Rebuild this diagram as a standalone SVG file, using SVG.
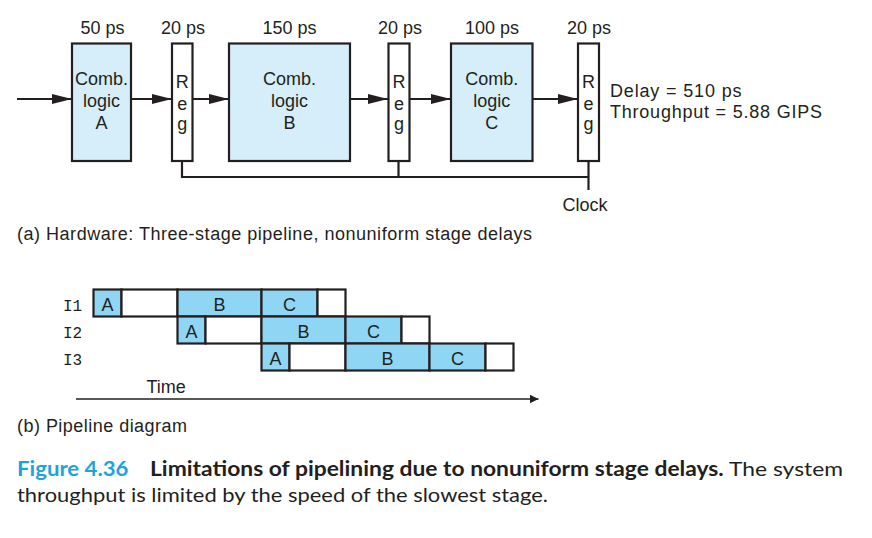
<svg xmlns="http://www.w3.org/2000/svg" width="872" height="538" viewBox="0 0 872 538">
<defs>
<style>
.t{font-family:"Liberation Sans",Arial,sans-serif;font-size:18px;fill:#231f20}
.c{text-anchor:middle}
.mono{font-family:"Liberation Mono","Courier New",monospace;font-size:16px;fill:#231f20}
.box{fill:#d5eef9;stroke:#231f20;stroke-width:2.2}
.reg{fill:#fff;stroke:#231f20;stroke-width:2.2}
.cell{fill:#8fd6f4;stroke:#231f20;stroke-width:2.2}
.empty{fill:#fff;stroke:#231f20;stroke-width:2.2}
.wire{fill:none;stroke:#231f20;stroke-width:2.2}
.cap{font-family:Lato,"Open Sans",sans-serif;font-size:20px;fill:#231f20}
</style>
<marker id="ah" markerUnits="userSpaceOnUse" markerWidth="20" markerHeight="10" refX="20" refY="5" orient="auto">
<path d="M0,0 L20,5 L0,10 z" fill="#231f20"/>
</marker>
<marker id="ah2" markerUnits="userSpaceOnUse" markerWidth="10" markerHeight="9" refX="9" refY="4.5" orient="auto">
<path d="M0,0 L9,4.5 L0,9 z" fill="#231f20"/>
</marker>
</defs>
<rect width="872" height="538" fill="#fff"/>

<g id="connectors">
<line class="wire" x1="17" y1="99" x2="72" y2="99" marker-end="url(#ah)"/>
<line class="wire" x1="131" y1="99" x2="172" y2="99" marker-end="url(#ah)"/>
<line class="wire" x1="193" y1="99" x2="229" y2="99" marker-end="url(#ah)"/>
<line class="wire" x1="350" y1="99" x2="388" y2="99" marker-end="url(#ah)"/>
<line class="wire" x1="410" y1="99" x2="451" y2="99" marker-end="url(#ah)"/>
<line class="wire" x1="532" y1="99" x2="578" y2="99" marker-end="url(#ah)"/>
<polyline class="wire" points="182,161 182,177 588.5,177"/>
<line class="wire" x1="398.5" y1="161" x2="398.5" y2="177"/>
<line class="wire" x1="588.5" y1="161" x2="588.5" y2="190"/>
</g>

<g id="combA">
<rect class="box" x="72" y="43.5" width="59" height="117.5"/>
<text class="t c" x="101.5" y="85">Comb.</text>
<text class="t c" x="101.5" y="107">logic</text>
<text class="t c" x="101.5" y="129">A</text>
<text class="t c" x="102.5" y="34">50 ps</text>
</g>
<g id="reg1">
<rect class="reg" x="172" y="43.5" width="20.5" height="117.5"/>
<text class="t c" x="182.2" y="88">R</text>
<text class="t c" x="182.2" y="109.5">e</text>
<text class="t c" x="182.2" y="130">g</text>
<text class="t c" x="183" y="34">20 ps</text>
</g>
<g id="combB">
<rect class="box" x="229" y="43.5" width="121" height="117.5"/>
<text class="t c" x="289.5" y="85">Comb.</text>
<text class="t c" x="289.5" y="107">logic</text>
<text class="t c" x="289.5" y="129">B</text>
<text class="t c" x="289.5" y="34">150 ps</text>
</g>
<g id="reg2">
<rect class="reg" x="388.5" y="43.5" width="21" height="117.5"/>
<text class="t c" x="399" y="88">R</text>
<text class="t c" x="399" y="109.5">e</text>
<text class="t c" x="399" y="130">g</text>
<text class="t c" x="400" y="34">20 ps</text>
</g>
<g id="combC">
<rect class="box" x="451" y="43.5" width="81.5" height="117.5"/>
<text class="t c" x="491.7" y="85">Comb.</text>
<text class="t c" x="491.7" y="107">logic</text>
<text class="t c" x="491.7" y="129">C</text>
<text class="t c" x="492" y="34">100 ps</text>
</g>
<g id="reg3">
<rect class="reg" x="578" y="43.5" width="21" height="117.5"/>
<text class="t c" x="588.5" y="88">R</text>
<text class="t c" x="588.5" y="109.5">e</text>
<text class="t c" x="588.5" y="130">g</text>
<text class="t c" x="589" y="34">20 ps</text>
</g>
<g id="delay">
<text class="t" x="610" y="96.5" textLength="131.5" lengthAdjust="spacing">Delay = 510 ps</text>
<text class="t" x="610" y="117.5" textLength="212" lengthAdjust="spacing">Throughput = 5.88 GIPS</text>
</g>
<g id="clock">
<text class="t c" x="585" y="210.5">Clock</text>
</g>
<g id="labelA">
<text class="t" x="17" y="240" textLength="515" lengthAdjust="spacing">(a) Hardware: Three-stage pipeline, nonuniform stage delays</text>
</g>

<g id="row1">
<text class="mono" x="63" y="310.5">I1</text>
<rect class="cell" x="93.5" y="289.5" width="28" height="27"/>
<rect class="empty" x="121.5" y="289.5" width="56" height="27"/>
<rect class="cell" x="177.5" y="289.5" width="84" height="27"/>
<rect class="cell" x="261.5" y="289.5" width="56" height="27"/>
<rect class="empty" x="317.5" y="289.5" width="28" height="27"/>
<text class="t c" x="107.5" y="310.5">A</text>
<text class="t c" x="219.5" y="310.5">B</text>
<text class="t c" x="289.5" y="310.5">C</text>
</g>
<g id="row2">
<text class="mono" x="63" y="337.5">I2</text>
<rect class="cell" x="177.5" y="316.5" width="28" height="27"/>
<rect class="empty" x="205.5" y="316.5" width="56" height="27"/>
<rect class="cell" x="261.5" y="316.5" width="84" height="27"/>
<rect class="cell" x="345.5" y="316.5" width="56" height="27"/>
<rect class="empty" x="401.5" y="316.5" width="28" height="27"/>
<text class="t c" x="191.5" y="337.5">A</text>
<text class="t c" x="303.5" y="337.5">B</text>
<text class="t c" x="373.5" y="337.5">C</text>
</g>
<g id="row3">
<text class="mono" x="63" y="364.5">I3</text>
<rect class="cell" x="261.5" y="343.5" width="28" height="27"/>
<rect class="empty" x="289.5" y="343.5" width="56" height="27"/>
<rect class="cell" x="345.5" y="343.5" width="84" height="27"/>
<rect class="cell" x="429.5" y="343.5" width="56" height="27"/>
<rect class="empty" x="485.5" y="343.5" width="28" height="27"/>
<text class="t c" x="275.5" y="364.5">A</text>
<text class="t c" x="387.5" y="364.5">B</text>
<text class="t c" x="457.5" y="364.5">C</text>
</g>
<g id="timeAxis">
<text class="t" x="146.5" y="393">Time</text>
<line x1="76" y1="399" x2="538.5" y2="399" stroke="#231f20" stroke-width="1.5" marker-end="url(#ah2)"/>
</g>
<g id="labelB">
<text class="t" x="17" y="431.5" textLength="170" lengthAdjust="spacing">(b) Pipeline diagram</text>
</g>

<g id="caption">
<text class="cap" x="17" y="476" font-weight="bold" fill="#1ea3dd" style="fill:#1ea3dd" textLength="111.5" lengthAdjust="spacingAndGlyphs">Figure 4.36</text>
<text class="cap" x="150" y="476" textLength="693" lengthAdjust="spacingAndGlyphs"><tspan font-weight="bold">Limitations of pipelining due to nonuniform stage delays.</tspan> The system</text>
<text class="cap" x="17" y="501.5" textLength="531" lengthAdjust="spacingAndGlyphs">throughput is limited by the speed of the slowest stage.</text>
</g>
</svg>
